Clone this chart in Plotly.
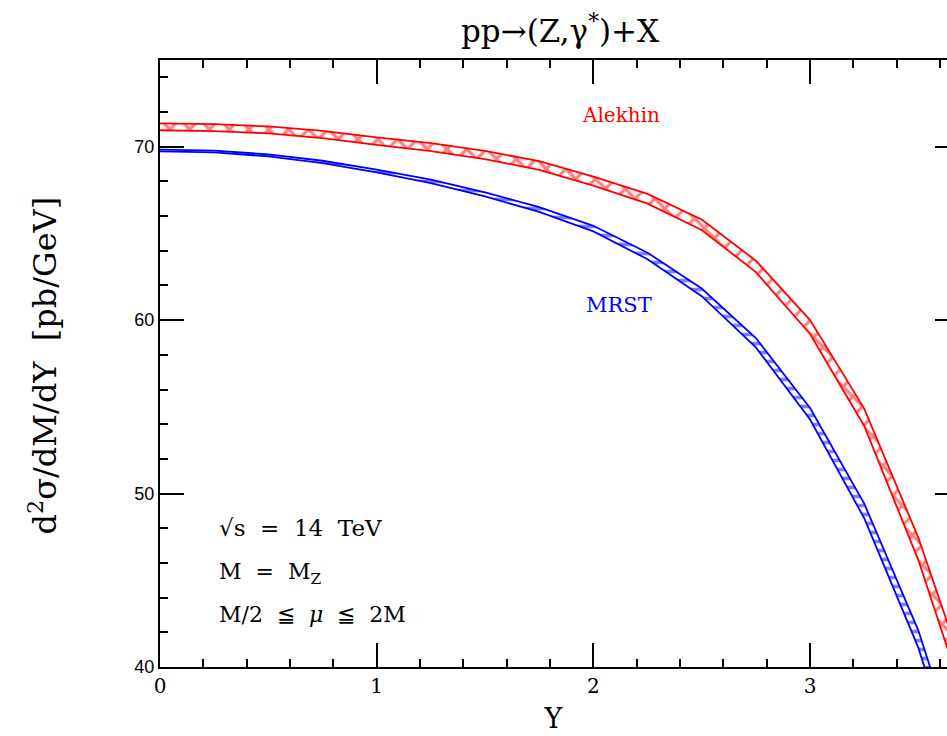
import plotly.graph_objects as go

rapidity = [0.0, 0.25, 0.5, 0.75, 1.0, 1.25, 1.5, 1.75, 2.0, 2.25, 2.5, 2.75, 3.0, 3.25, 3.5, 3.75]
alekhin_upper = [71.35, 71.30, 71.17, 70.91, 70.54, 70.21, 69.76, 69.17, 68.28, 67.28, 65.80, 63.43, 60.00, 54.90, 47.45, 38.30]
alekhin_lower = [70.95, 70.90, 70.77, 70.49, 70.10, 69.75, 69.28, 68.67, 67.76, 66.72, 65.20, 62.77, 59.20, 53.90, 46.15, 36.70]
mrst_upper = [69.83, 69.77, 69.56, 69.19, 68.68, 68.10, 67.37, 66.52, 65.44, 63.89, 61.82, 58.97, 54.93, 49.42, 42.10, 32.35]
mrst_lower = [69.73, 69.67, 69.44, 69.05, 68.52, 67.90, 67.13, 66.24, 65.12, 63.51, 61.38, 58.43, 54.27, 48.58, 41.10, 31.25]

RED = "#ff0000"
BLUE = "#0000ff"
SERIF = "DejaVu Serif"
SANS = "Liberation Sans"
SP = "\u00a0"

fig = go.Figure()

def band(lower, upper, color, shape, size, solidity):
    fig.add_trace(go.Scatter(x=rapidity, y=lower, mode="lines",
                             line=dict(color=color, width=1.8), showlegend=False,
                             hoverinfo="skip"))
    fig.add_trace(go.Scatter(x=rapidity, y=upper, mode="lines",
                             line=dict(color=color, width=1.8), showlegend=False,
                             fill="tonexty", fillcolor="rgba(0,0,0,0)",
                             fillpattern=dict(shape=shape, fgcolor=color, bgcolor="white",
                                              size=size, solidity=solidity),
                             hoverinfo="skip"))

band(alekhin_lower, alekhin_upper, RED, "x", 14, 0.4)
band(mrst_lower, mrst_upper, BLUE, "-", 9, 0.4)

# right-side mirrored ticks (frame continues beyond the picture)
fig.add_trace(go.Scatter(x=[None], y=[None], yaxis="y2", showlegend=False))

fig.update_layout(
    width=947, height=736,
    margin=dict(l=160, r=0, t=60, b=69),
    paper_bgcolor="white", plot_bgcolor="white",
    showlegend=False,
    xaxis=dict(range=[0, 3.632], showgrid=False, zeroline=False,
               showline=True, linecolor="black", linewidth=2, mirror="ticks",
               ticks="inside", ticklen=24, tickwidth=2, tickcolor="black",
               tick0=0, dtick=1,
               minor=dict(dtick=0.2, ticks="inside", ticklen=8, tickwidth=2, tickcolor="black"),
               tickfont=dict(family=SERIF, size=20, color="black"),
               title=dict(text="Y", font=dict(family=SERIF, size=27, color="black"), standoff=12)),
    yaxis=dict(range=[40, 75], showgrid=False, zeroline=False,
               showline=True, linecolor="black", linewidth=2, mirror=False,
               ticks="inside", ticklen=24, tickwidth=2, tickcolor="black",
               tick0=40, dtick=10,
               minor=dict(dtick=2, ticks="inside", ticklen=8, tickwidth=2, tickcolor="black"),
               tickfont=dict(family=SANS, size=18, color="black")),
    yaxis2=dict(range=[40, 75], overlaying="y", side="right", anchor="x",
                showgrid=False, zeroline=False, showline=False,
                ticks="inside", ticklen=12, tickwidth=2, tickcolor="black",
                tick0=40, dtick=10, showticklabels=False),
)

ann = []
ann.append(dict(text="pp→(Z,γ<sup>*</sup>)+X", xref="paper", yref="paper", x=0.50, y=1.0,
                xshift=6, yshift=31, xanchor="center", yanchor="middle", showarrow=False,
                font=dict(family=SERIF, size=31, color="black")))
ann.append(dict(text="d<sup>2</sup>σ/dM/dY" + SP * 2 + "[pb/GeV]", xref="paper", yref="paper",
                x=0, y=0.5, xshift=-118, yshift=-2, textangle=-90, showarrow=False,
                xanchor="center", yanchor="middle",
                font=dict(family=SERIF, size=32, color="black")))
ann.append(dict(text="Alekhin", x=2.127, y=71.84, showarrow=False,
                font=dict(family=SERIF, size=20, color=RED)))
ann.append(dict(text="MRST", x=2.118, y=60.9, showarrow=False,
                font=dict(family=SERIF, size=21, color=BLUE)))
ann.append(dict(text="√s" + SP * 2 + "=" + SP * 2 + "14" + SP * 2 + "TeV", x=0.265, y=48.0,
                xanchor="left", showarrow=False,
                font=dict(family=SERIF, size=23, color="black")))
ann.append(dict(text="M" + SP * 2 + "=" + SP * 2 + "M<sub>Z</sub>", x=0.265, y=45.4,
                xanchor="left", showarrow=False,
                font=dict(family=SERIF, size=22, color="black")))
ann.append(dict(text="M/2" + SP * 2 + "≦" + SP * 2 + "<i>μ</i>" + SP * 2 + "≦" + SP * 2 + "2M",
                x=0.265, y=43.05, xanchor="left", showarrow=False,
                font=dict(family=SERIF, size=22, color="black")))
fig.update_layout(annotations=ann)

fig.write_html("out.html", config={"displayModeBar": False},
               post_script="document.body.style.margin='0';document.body.style.overflow='hidden';")
